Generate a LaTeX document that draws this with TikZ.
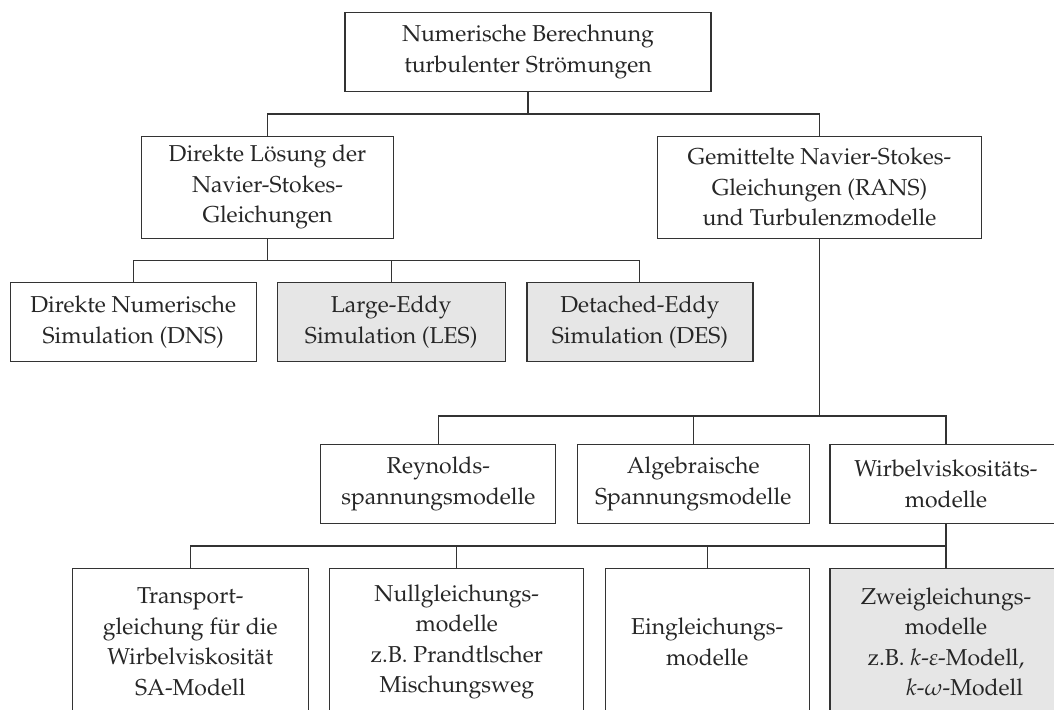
\documentclass[tikz,border=0pt]{standalone}
\usepackage[T1]{fontenc}
\usepackage{mathpazo}
\usetikzlibrary{positioning}

\definecolor{boxgray}{HTML}{E6E6E6}
\definecolor{linegray}{HTML}{333333}

\begin{document}
\begin{tikzpicture}[x=0.4pt,y=-0.4pt,
  box/.style={draw=linegray, line width=0.5pt, align=center, inner sep=0pt,
    text=black!85, font=\fontsize{9.2}{12.2}\selectfont},
  shaded/.style={box, fill=boxgray},
  boxsize/.style 2 args={minimum width=#1*0.4pt, minimum height=#2*0.4pt},
  link/.style={draw=linegray, line width=0.45pt}]

  % Frame
  \useasboundingbox (0,0) rectangle (1054,709);
  \clip (0,0) rectangle (1054,709);

  % Top level
  \node[box, boxsize={366}{79}] (top) at (528,51.7)
    {Numerische Berechnung\\turbulenter Strömungen};

  % Second level
  \node[box, boxsize={252}{102}] (direkt) at (267.5,187.2)
    {Direkte Lösung der\\Navier-Stokes-\\Gleichungen};
  \node[box, boxsize={324}{102}] (rans) at (819.5,187.2)
    {Gemittelte Navier-Stokes-\\Gleichungen (RANS)\\und Turbulenzmodelle};

  % Direct solutions
  \node[box, boxsize={246}{79}] (dns) at (133.2,322.3)
    {Direkte Numerische\\Simulation (DNS)};
  \node[shaded, boxsize={228}{79}] (les) at (391.2,322.3)
    {Large-Eddy\\Simulation (LES)};
  \node[shaded, boxsize={226}{79}] (des) at (639.9,322.3)
    {Detached-Eddy\\Simulation (DES)};

  % Turbulence models
  \node[box, boxsize={235}{79}] (rey) at (438.3,483.8)
    {Reynolds-\\spannungsmodelle};
  \node[box, boxsize={232}{79}] (alg) at (693.2,483.8)
    {Algebraische\\Spannungsmodelle};
  \node[box, boxsize={232}{79}] (wir) at (946,483.8)
    {Wirbelviskositäts-\\modelle};

  % Eddy viscosity models
  \node[box, boxsize={236}{146}] (tra) at (190.3,641.8)
    {Transport-\\gleichung für die\\Wirbelviskosität\\SA-Modell};
  \node[box, boxsize={254}{146}] (nul) at (456.8,641.8)
    {Nullgleichungs-\\modelle\\z.B. Prandtlscher\\Mischungsweg};
  \node[box, boxsize={204}{146}] (ein) at (707.2,641.8)
    {Eingleichungs-\\modelle};
  \node[shaded, boxsize={232}{146}] (zwe) at (946,641.8)
    {Zweigleichungs-\\modelle\\z.B. $k$-$\varepsilon$-Modell,\\
     \hphantom{z.B. }$k$-$\omega$-Modell\hphantom{,}};

  % Junctions
  \coordinate (j1) at (528,114);
  \coordinate (j2) at (267.5,260.5);
  \coordinate (j3) at (819.5,416);
  \coordinate (j4) at (946,546);

  % Connectors
  \draw[link] (top.south) -- (j1);
  \draw[link] (direkt.north) |- (j1) -| (rans.north);

  \draw[link] (direkt.south) -- (j2);
  \draw[link] (dns.north) |- (j2) -| (des.north);
  \draw[link] (les.north) -- (les.north |- j2);

  \draw[link] (rans.south) -- (j3);
  \draw[link] (rey.north) |- (j3) -| (wir.north);
  \draw[link] (alg.north) -- (alg.north |- j3);

  \draw[link] (wir.south) -- (zwe.north);
  \draw[link] (tra.north) |- (j4);
  \draw[link] (nul.north) -- (nul.north |- j4);
  \draw[link] (ein.north) -- (ein.north |- j4);

\end{tikzpicture}
\end{document}
